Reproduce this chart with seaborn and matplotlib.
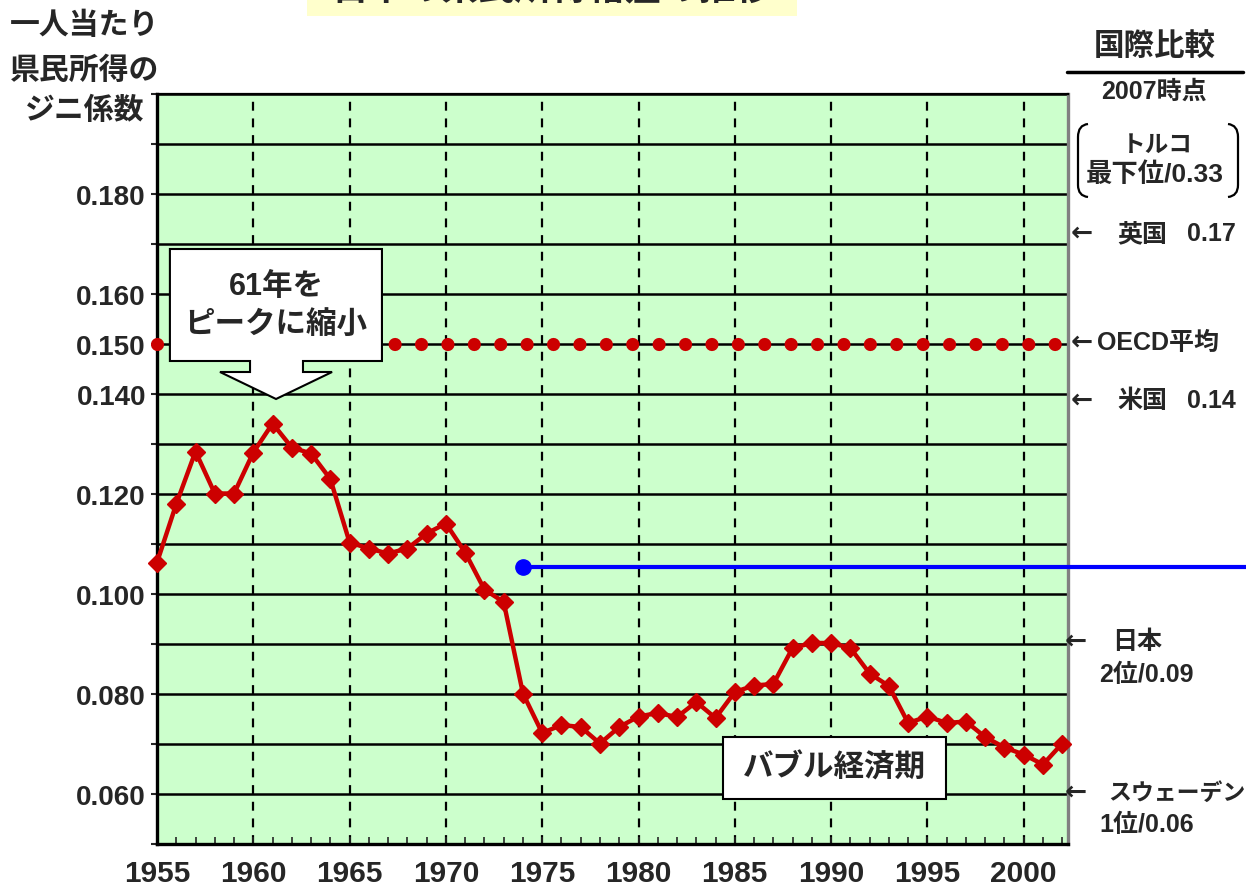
import matplotlib
matplotlib.use("Agg")
import matplotlib.pyplot as plt
import seaborn as sns
import pandas as pd
import numpy as np
from matplotlib.patches import Polygon, Rectangle, PathPatch
from matplotlib.path import Path
from matplotlib.ticker import FixedLocator, MultipleLocator, FuncFormatter

# ---------------- data ----------------
years = list(range(1955, 2003))
gini = [0.1063, 0.1180, 0.1285, 0.1201, 0.1201, 0.1283, 0.1341, 0.1293, 0.1281, 0.1230,
        0.1103, 0.1091, 0.1081, 0.1091, 0.1121, 0.1141, 0.1083, 0.1009, 0.0984, 0.0801,
        0.0722, 0.0738, 0.0734, 0.0701, 0.0734, 0.0755, 0.0762, 0.0754, 0.0784, 0.0752,
        0.0804, 0.0817, 0.0820, 0.0892, 0.0902, 0.0902, 0.0892, 0.0841, 0.0816, 0.0742,
        0.0755, 0.0742, 0.0745, 0.0714, 0.0693, 0.0679, 0.0659, 0.0701]
oecd_years = [1955, 2002]
oecd_values = [0.150, 0.150]
blue_years = [1974, 2013]
blue_values = [0.1055, 0.1055]
xtick_years = [1955, 1960, 1965, 1970, 1975, 1980, 1985, 1990, 1995, 2000]
ytick_labelled = [0.180, 0.160, 0.150, 0.140, 0.120, 0.100, 0.080, 0.060]

title = "日本の県民所得格差の推移"
ylabel_lines = ["一人当たり", "県民所得の", "ジニ係数"]

# ---------------- style ----------------
sns.set_style("white")
plt.rcParams['font.family'] = ['Liberation Sans', 'Noto Sans CJK JP', 'DejaVu Sans']
plt.rcParams['font.weight'] = 'bold'

W, H = 1246, 887
fig = plt.figure(figsize=(W / 100, H / 100), dpi=100)
fig.patch.set_facecolor('white')

def fx(px):
    return px / W

def fy(py):
    return 1 - py / H

ax = fig.add_axes([fx(157), fy(845), (1068 - 157) / W, (845 - 95) / H])
ax.set_facecolor('#CCFFCC')
ax.set_xlim(1955, 2002.3)
ax.set_ylim(0.05, 0.20)
ax.set_axisbelow(True)

# grid / ticks
ax.yaxis.set_major_locator(FixedLocator(np.round(np.arange(0.05, 0.2001, 0.01), 3)))
ax.yaxis.set_major_formatter(FuncFormatter(
    lambda v, p: f"{v:.3f}" if any(abs(v - t) < 1e-6 for t in ytick_labelled) else ""))
ax.xaxis.set_major_locator(FixedLocator(xtick_years))
ax.xaxis.set_minor_locator(MultipleLocator(1))
ax.grid(axis='y', color='black', lw=1.8)
ax.grid(axis='x', color='black', lw=1.6, ls=(0, (4, 3.5)))

ax.tick_params(axis='y', direction='out', length=4, width=1.5, pad=4,
               labelsize=20, left=True)
ax.tick_params(axis='x', which='both', direction='in', length=5, width=1.2,
               bottom=True, top=False, pad=11, labelsize=21.5)
for lbl in ax.get_xticklabels():
    lbl.set_fontweight('bold')

for s in ['left', 'bottom']:
    ax.spines[s].set_color('black')
    ax.spines[s].set_linewidth(2.4)
ax.spines['top'].set_color('black')
ax.spines['top'].set_linewidth(1.6)
ax.spines['right'].set_color('#808080')
ax.spines['right'].set_linewidth(2.4)

# OECD dotted line
ax.plot(oecd_years, oecd_values, color='#CC0000', lw=9.5,
        ls=(0, (0.001, 2.0)), dash_capstyle='round', clip_on=False, zorder=3)

# blue line
ax.plot(blue_years, blue_values, color='#0000FF', lw=3, marker='o',
        markevery=[0], markersize=11, clip_on=False, zorder=4)

# main series
df = pd.DataFrame({"year": years, "gini": gini})
sns.lineplot(data=df, x="year", y="gini", ax=ax, color='#CC0000', lw=3.2,
             marker='D', markersize=9.5, markeredgecolor='#CC0000',
             markeredgewidth=1, errorbar=None, clip_on=False, zorder=5)
ax.set_xlabel("")
ax.set_ylabel("")

# callout "61年を ピークに縮小"
callout = [(1955.67, 0.1690), (1966.68, 0.1690), (1966.68, 0.1466),
           (1962.58, 0.1466), (1962.58, 0.1444), (1964.09, 0.1444),
           (1961.18, 0.1390), (1958.27, 0.1444), (1959.83, 0.1444),
           (1959.83, 0.1466), (1955.67, 0.1466)]
ax.add_patch(Polygon(callout, closed=True, facecolor='white', edgecolor='black',
                     lw=1.5, zorder=7, clip_on=False))
ax.text(1961.18, 0.1616, "61年を", ha='center', va='center', fontsize=22,
        fontweight='bold', zorder=8)
ax.text(1961.18, 0.1540, "ピークに縮小", ha='center', va='center', fontsize=22,
        fontweight='bold', zorder=8)

# bubble box
ax.add_patch(Rectangle((1984.39, 0.0590), 1995.97 - 1984.39, 0.0714 - 0.0590,
                       facecolor='white', edgecolor='black', lw=1.5, zorder=7))
ax.text(1990.18, 0.0652, "バブル経済期", ha='center', va='center', fontsize=22,
        fontweight='bold', zorder=8)

# title (cut off at top, as in the reference)
fig.patches.append(Rectangle((fx(307), fy(17)), (797 - 307) / W, 0.05,
                             transform=fig.transFigure, facecolor='#FFFFCC',
                             edgecolor='none', zorder=0))
fig.text(fx(552), fy(0), title, ha='center', va='baseline', fontsize=26.5,
         fontweight='bold')

# y label
for txt, py in zip(ylabel_lines, [26, 71, 111]):
    fig.text(fx(85), fy(py), txt, ha='center', va='center', fontsize=21.5,
             fontweight='bold')

# right annotations
fig.text(fx(1155), fy(47), "国際比較", ha='center', va='center', fontsize=22,
         fontweight='bold')
fig.add_artist(plt.Line2D([fx(1067), fx(1243)], [fy(73), fy(73)],
                          transform=fig.transFigure, color='black', lw=2.5))
fig.text(fx(1154), fy(92), "2007時点", ha='center', va='center', fontsize=18,
         fontweight='bold')
fig.text(fx(1157), fy(145), "トルコ", ha='center', va='center', fontsize=17,
         fontweight='bold')
fig.text(fx(1155), fy(175), "最下位/0.33", ha='center', va='center', fontsize=19,
         fontweight='bold')

def bracket(x_tip, x_end):
    verts = [(x_end, 125), (x_tip, 126), (x_tip, 138), (x_tip, 186),
             (x_tip, 197), (x_end, 198)]
    codes = [Path.MOVETO, Path.CURVE3, Path.CURVE3, Path.LINETO,
             Path.CURVE3, Path.CURVE3]
    verts = [(fx(a), fy(b)) for a, b in verts]
    fig.patches.append(PathPatch(Path(verts, codes), transform=fig.transFigure,
                                 facecolor='none', edgecolor='black', lw=1.6))

bracket(1078, 1088)
bracket(1238, 1228)

def side(px, py, txt, size=18):
    fig.text(fx(px), fy(py), txt, ha='left', va='center', fontsize=size,
             fontweight='bold')

def arrow(px, py):
    fig.text(fx(px), fy(py), "←", ha='left', va='center', fontsize=19,
             family=['DejaVu Sans'])

arrow(1071, 234)
side(1117, 234, "英国")
side(1187, 234, "0.17")
arrow(1071, 343)
side(1097, 343, "OECD平均")
arrow(1071, 401)
side(1117, 401, "米国")
side(1187, 401, "0.14")
arrow(1065, 642)
side(1112, 642, "日本")
side(1099, 675, "2位/0.09")
arrow(1065, 793)
side(1108, 793, "スウェーデン", size=16.5)
side(1099, 825, "1位/0.06")

fig.savefig("out.png", dpi=100)
